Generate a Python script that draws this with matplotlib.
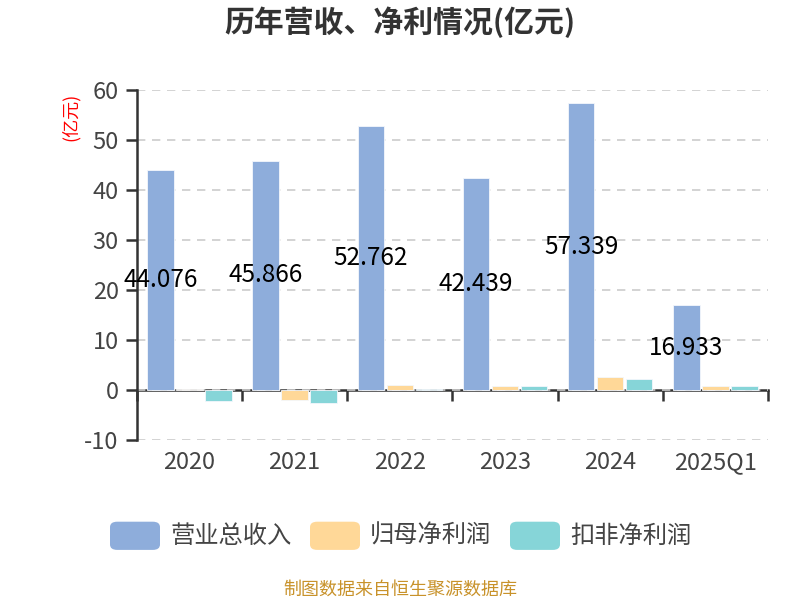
import matplotlib
matplotlib.use("Agg")
import matplotlib.pyplot as plt
import numpy as np
from matplotlib.patches import FancyBboxPatch

plt.rcParams['font.family'] = ['Noto Sans CJK SC', 'DejaVu Sans']

categories = ['2020', '2021', '2022', '2023', '2024', '2025Q1']
revenue = [44.076, 45.866, 52.762, 42.439, 57.339, 16.933]
net_profit = [0.2, -2.0, 1.0, 0.7, 2.6, 0.8]
deducted_profit = [-2.2, -2.6, 0.2, 0.8, 2.2, 0.7]
series_names = ['营业总收入', '归母净利润', '扣非净利润']
colors = ['#8EADDB', '#FFD898', '#86D5D8']
yticks = [-10, 0, 10, 20, 30, 40, 50, 60]

fig = plt.figure(figsize=(8, 6), dpi=100)
ax = fig.add_axes([0.171, 0.267, 0.789, 0.583])

x = np.arange(len(categories))
w = 0.25
step = 0.276
for i, (vals, c) in enumerate(zip([revenue, net_profit, deducted_profit], colors)):
    ax.bar(x + (i - 1) * step, vals, width=w, color=c, edgecolor='#f4f7fc', linewidth=0.6, zorder=3)

for xi, v in zip(x, revenue):
    ax.text(xi - step, v / 2, f'{v:.3f}', ha='center', va='center', fontsize=17.5, color='black', zorder=5)

ax.set_xlim(-0.5, len(categories) - 0.5)
ax.set_ylim(-10, 60)
ax.set_yticks(yticks)
ax.set_yticklabels([str(t) for t in yticks], fontsize=17, color='#444444')
ax.set_xticks(x)
ax.set_xticklabels(categories, fontsize=17, color='#444444')
ax.tick_params(axis='x', which='major', length=0, pad=8)
ax.tick_params(axis='y', length=8, width=1.8, color='#333333', pad=5)

for s in ['top', 'right', 'bottom']:
    ax.spines[s].set_visible(False)
ax.spines['left'].set_color('#333333')
ax.spines['left'].set_linewidth(1.8)
ax.yaxis.grid(True, linestyle=(0, (5, 4)), color='#cccccc', linewidth=1.2, zorder=0)
ax.set_axisbelow(True)

# category axis line at zero with boundary ticks
sec = ax.secondary_xaxis(10 / 70)
sec.set_xticks(np.arange(len(categories) + 1) - 0.5)
sec.set_xticklabels([''] * (len(categories) + 1))
sec.tick_params(axis='x', length=8, width=1.8, color='#333333')
sec.spines['bottom'].set_color('#333333')
sec.spines['bottom'].set_linewidth(1.8)
sec.spines['bottom'].set_zorder(4)

fig.text(0.5, 0.963, '历年营收、净利情况(亿元)', ha='center', va='center', fontsize=21.5, fontweight='bold', color='#333333')
fig.text(0.088, 0.805, '(亿元)', ha='center', va='center', rotation=90, fontsize=13, color='red')

# legend
legend_y = 0.107
starts = [0.1375, 0.3875, 0.6375]
for name, c, sx in zip(series_names, colors, starts):
    p = FancyBboxPatch((sx, legend_y - 0.0235), 0.0625, 0.047, boxstyle='round,pad=0,rounding_size=0.009',
                       transform=fig.transFigure, facecolor=c, edgecolor='none')
    fig.patches.append(p)
    fig.text(sx + 0.075, legend_y, name, ha='left', va='center', fontsize=17.5, color='#444444')

fig.text(0.5, 0.018, '制图数据来自恒生聚源数据库', ha='center', va='center', fontsize=13, color='#C8922A')

fig.savefig('out.png', dpi=100)
